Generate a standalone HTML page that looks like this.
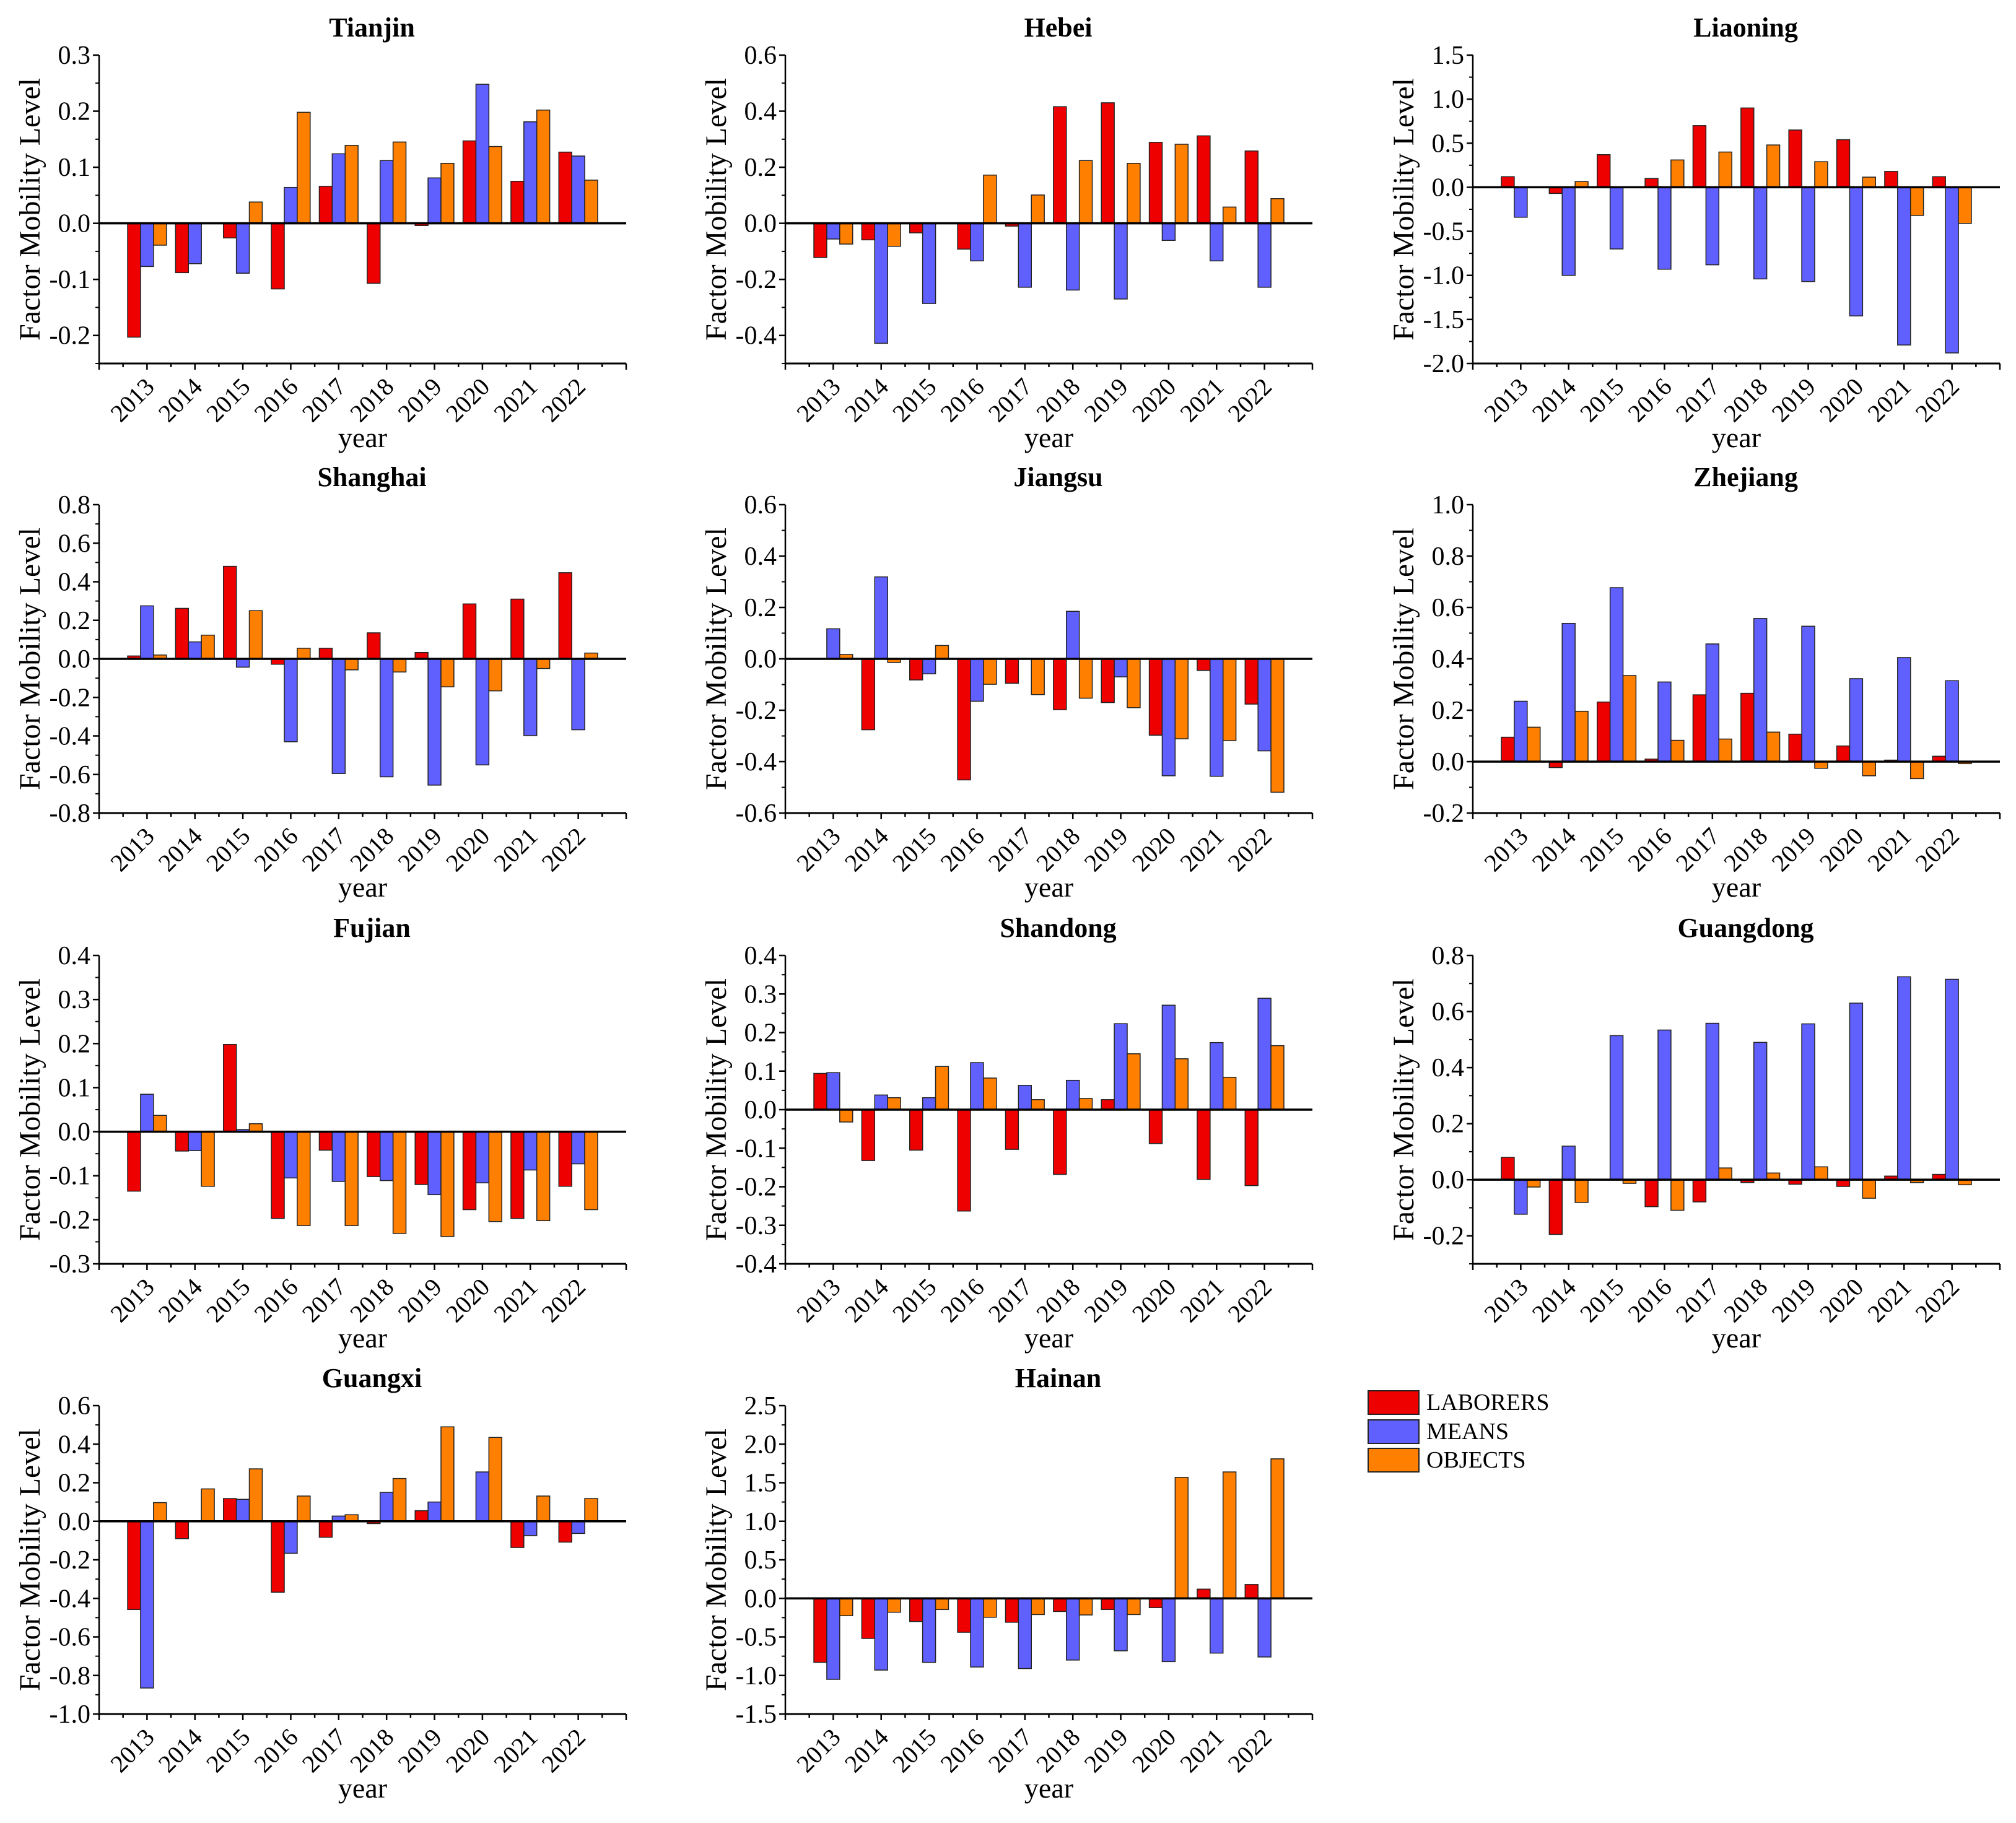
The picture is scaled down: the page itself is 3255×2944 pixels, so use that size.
<!DOCTYPE html>
<html><head><meta charset="utf-8">
<style>
html,body{margin:0;padding:0;background:#fff;}
svg{display:block;font-family:"Liberation Serif","Times New Roman",serif;}
text{font-family:"Liberation Serif","Times New Roman",serif;fill:#000;}
</style></head>
<body>
<svg id="chart" width="3255" height="2944" viewBox="0 0 3255 2944" xmlns="http://www.w3.org/2000/svg" font-family="Liberation Serif, serif"></svg>
<script>
const categories = ["2013","2014","2015","2016","2017","2018","2019","2020","2021","2022"];
const seriesNames = ["LABORERS","MEANS","OBJECTS"];
const provinces = ["Tianjin","Hebei","Liaoning","Shanghai","Jiangsu","Zhejiang","Fujian","Shandong","Guangdong","Guangxi","Hainan"];

const tianjinLaborers = [-0.203,-0.088,-0.026,-0.117,0.066,-0.107,-0.004,0.147,0.075,0.127];
const tianjinMeans    = [-0.077,-0.072,-0.089,0.064,0.124,0.112,0.081,0.248,0.181,0.120];
const tianjinObjects  = [-0.039,0,0.038,0.198,0.139,0.145,0.107,0.137,0.202,0.077];

const hebeiLaborers = [-0.122,-0.059,-0.034,-0.092,-0.010,0.416,0.430,0.289,0.312,0.258];
const hebeiMeans    = [-0.056,-0.428,-0.286,-0.134,-0.228,-0.238,-0.270,-0.061,-0.134,-0.228];
const hebeiObjects  = [-0.074,-0.082,0,0.172,0.101,0.224,0.214,0.282,0.058,0.088];

const liaoningLaborers = [0.12,-0.07,0.37,0.10,0.70,0.90,0.65,0.54,0.18,0.12];
const liaoningMeans    = [-0.34,-1.00,-0.70,-0.93,-0.88,-1.04,-1.07,-1.46,-1.79,-1.88];
const liaoningObjects  = [0,0.065,0,0.31,0.40,0.48,0.29,0.115,-0.32,-0.41];

const shanghaiLaborers = [0.015,0.262,0.480,-0.028,0.055,0.135,0.033,0.285,0.310,0.447];
const shanghaiMeans    = [0.275,0.088,-0.043,-0.430,-0.595,-0.612,-0.655,-0.550,-0.398,-0.368];
const shanghaiObjects  = [0.020,0.123,0.250,0.055,-0.057,-0.068,-0.145,-0.166,-0.050,0.030];

const jiangsuLaborers = [0,-0.276,-0.082,-0.471,-0.095,-0.198,-0.170,-0.297,-0.045,-0.176];
const jiangsuMeans    = [0.117,0.319,-0.058,-0.165,0,0.185,-0.070,-0.455,-0.457,-0.358];
const jiangsuObjects  = [0.017,-0.014,0.052,-0.099,-0.139,-0.153,-0.190,-0.311,-0.318,-0.519];

const zhejiangLaborers = [0.095,-0.023,0.232,0.010,0.260,0.266,0.107,0.061,0.006,0.021];
const zhejiangMeans    = [0.235,0.538,0.677,0.310,0.458,0.557,0.527,0.323,0.405,0.315];
const zhejiangObjects  = [0.134,0.196,0.335,0.083,0.088,0.115,-0.026,-0.055,-0.066,-0.008];

const fujianLaborers = [-0.135,-0.044,0.198,-0.197,-0.042,-0.102,-0.120,-0.177,-0.197,-0.124];
const fujianMeans    = [0.085,-0.043,0.005,-0.105,-0.113,-0.111,-0.143,-0.116,-0.087,-0.073];
const fujianObjects  = [0.037,-0.124,0.018,-0.213,-0.213,-0.231,-0.238,-0.204,-0.202,-0.177];

const shandongLaborers = [0.094,-0.132,-0.105,-0.263,-0.103,-0.168,0.026,-0.088,-0.181,-0.197];
const shandongMeans    = [0.096,0.038,0.031,0.122,0.063,0.076,0.223,0.271,0.174,0.289];
const shandongObjects  = [-0.032,0.031,0.112,0.082,0.026,0.029,0.145,0.132,0.084,0.166];

const guangdongLaborers = [0.080,-0.195,0,-0.096,-0.079,-0.010,-0.016,-0.024,0.013,0.019];
const guangdongMeans    = [-0.123,0.120,0.514,0.534,0.558,0.490,0.556,0.630,0.724,0.715];
const guangdongObjects  = [-0.026,-0.081,-0.013,-0.109,0.042,0.024,0.046,-0.066,-0.010,-0.018];

const guangxiLaborers = [-0.458,-0.090,0.118,-0.368,-0.083,-0.012,0.055,0,-0.136,-0.108];
const guangxiMeans    = [-0.865,0,0.114,-0.166,0.027,0.150,0.100,0.256,-0.074,-0.063];
const guangxiObjects  = [0.097,0.168,0.272,0.131,0.034,0.222,0.490,0.435,0.131,0.118];

const hainanLaborers = [-0.83,-0.52,-0.30,-0.44,-0.31,-0.17,-0.145,-0.12,0.12,0.18];
const hainanMeans    = [-1.05,-0.93,-0.83,-0.89,-0.91,-0.80,-0.68,-0.82,-0.71,-0.76];
const hainanObjects  = [-0.225,-0.18,-0.145,-0.245,-0.21,-0.215,-0.21,1.57,1.64,1.81];

const yMins  = [-0.25,-0.5,-2.0,-0.8,-0.6,-0.2,-0.3,-0.4,-0.3,-1.0,-1.5];
const yMaxs  = [0.3,0.6,1.5,0.8,0.6,1.0,0.4,0.4,0.8,0.6,2.5];
const yMajor = [0.1,0.2,0.5,0.2,0.2,0.2,0.1,0.1,0.2,0.2,0.5];
const yTickStart = [-0.2,-0.4,-2.0,-0.8,-0.6,-0.2,-0.3,-0.4,-0.2,-1.0,-1.5];

const allData = [
  [tianjinLaborers,tianjinMeans,tianjinObjects],
  [hebeiLaborers,hebeiMeans,hebeiObjects],
  [liaoningLaborers,liaoningMeans,liaoningObjects],
  [shanghaiLaborers,shanghaiMeans,shanghaiObjects],
  [jiangsuLaborers,jiangsuMeans,jiangsuObjects],
  [zhejiangLaborers,zhejiangMeans,zhejiangObjects],
  [fujianLaborers,fujianMeans,fujianObjects],
  [shandongLaborers,shandongMeans,shandongObjects],
  [guangdongLaborers,guangdongMeans,guangdongObjects],
  [guangxiLaborers,guangxiMeans,guangxiObjects],
  [hainanLaborers,hainanMeans,hainanObjects]
];

const colors = ["#EE0000","#6060FF","#FF8000"];
const NS = "http://www.w3.org/2000/svg";
const FONT = "Liberation Serif, Times New Roman, serif";
const svg = document.getElementById("chart");
const colX = [160,1268,2378];
const rowTop = [89,815,1543,2270];
const PW = 851, PH = 498;

function mk(tag, attrs, parent){
  const e = document.createElementNS(NS, tag);
  for (const k in attrs) e.setAttribute(k, attrs[k]);
  if (tag === "text") e.setAttribute("font-family", FONT);
  (parent||svg).appendChild(e);
  return e;
}
function slug(s){return s.toLowerCase();}

provinces.forEach((name, p) => {
  const col = p % 3, row = Math.floor(p / 3);
  const x0 = colX[col], y0 = rowTop[row];
  const x1 = x0 + PW, y1 = y0 + PH;
  const ymin = yMins[p], ymax = yMaxs[p];
  const yScale = v => y1 - (v - ymin) / (ymax - ymin) * PH;
  const xScale = i => x0 + i / 11 * PW;
  const unit = PW / 11;
  const bw = unit * 0.27;

  const g = mk("g", {});
  
  

  const t = mk("text", {x: (x0+x1)/2 + 15, y: y0 - 30, "text-anchor":"middle", "font-size":44, "font-weight":"bold"}, g);
  t.textContent = name;
  
  

  allData[p].forEach((vals, s) => {
    vals.forEach((v, i) => {
      const cx = xScale(i + 1);
      const bx = cx + (s - 1.5) * bw;
      const ya = yScale(Math.max(v, 0)), yb = yScale(Math.min(v, 0));
      const r = mk("rect", {x: bx, y: ya, width: bw, height: Math.max(yb - ya, 0.5), fill: colors[s], stroke: "#222", "stroke-width": 1.5}, g);
      
      
    });
  });

  const z = mk("line", {x1: x0, x2: x1, y1: yScale(0), y2: yScale(0), stroke: "#000", "stroke-width": 3.5}, g);
  
  

  const ya = mk("line", {x1: x0, x2: x0, y1: y0, y2: y1, stroke: "#000", "stroke-width": 2.5}, g);
  
  
  const step = yMajor[p];
  const nMaj = Math.round((ymax - yTickStart[p]) / step);
  for (let k = 0; k <= nMaj; k++) {
    const v = yTickStart[p] + k * step;
    const yy = yScale(v);
    mk("line", {x1: x0 - 10, x2: x0, y1: yy, y2: yy, stroke: "#000", "stroke-width": 2.5}, g);
    const lbl = mk("text", {x: x0 - 14, y: yy + 14, "text-anchor":"end", "font-size":42}, g);
    lbl.textContent = v.toFixed(1).replace("-0.0","0.0");
    
    
  }
  for (let k = 0; k <= nMaj * 2 + 2; k++) {
    const v = yTickStart[p] - step + k * step / 2;
    if (v < ymin - 1e-9 || v > ymax + 1e-9) continue;
    const yy = yScale(v);
    mk("line", {x1: x0 - 6, x2: x0, y1: yy, y2: yy, stroke: "#000", "stroke-width": 2}, g);
  }

  const xa = mk("line", {x1: x0, x2: x1, y1: y1, y2: y1, stroke: "#000", "stroke-width": 3}, g);
  
  
  for (let k = 0; k <= 22; k++) {
    const xx = x0 + k * unit / 2;
    mk("line", {x1: xx, x2: xx, y1: y1, y2: y1 + (k % 2 ? 6 : 10), stroke: "#000", "stroke-width": 2.5}, g);
  }
  categories.forEach((c, i) => {
    const cx = xScale(i + 1);
    const tx = cx + 14, ty = y1 + 40;
    const lbl = mk("text", {x: tx, y: ty, "text-anchor":"end", "font-size":40, transform: `rotate(-45 ${tx} ${ty})`}, g);
    lbl.textContent = c;
    
    
  });

  const xt = mk("text", {x: (x0+x1)/2, y: y1 + 135, "text-anchor":"middle", "font-size":46}, g);
  xt.textContent = "year";
  
  

  const ylx = x0 - 96, yly = (y0 + y1) / 2;
  const yt = mk("text", {x: ylx, y: yly, "text-anchor":"middle", "font-size":48, transform: `rotate(-90 ${ylx} ${yly})`}, g);
  yt.textContent = "Factor Mobility Level";
  
  
});

const lg = mk("g", {});


const legendTops = [2246, 2293, 2339];
seriesNames.forEach((s, i) => {
  const r = mk("rect", {x: 2209, y: legendTops[i], width: 82, height: 38, fill: colors[i], stroke: "#222", "stroke-width": 2}, lg);
  
  
  const t = mk("text", {x: 2303, y: legendTops[i] + 31, "font-size": 38}, lg);
  t.textContent = s;
  
  
});
</script>
</body></html>
